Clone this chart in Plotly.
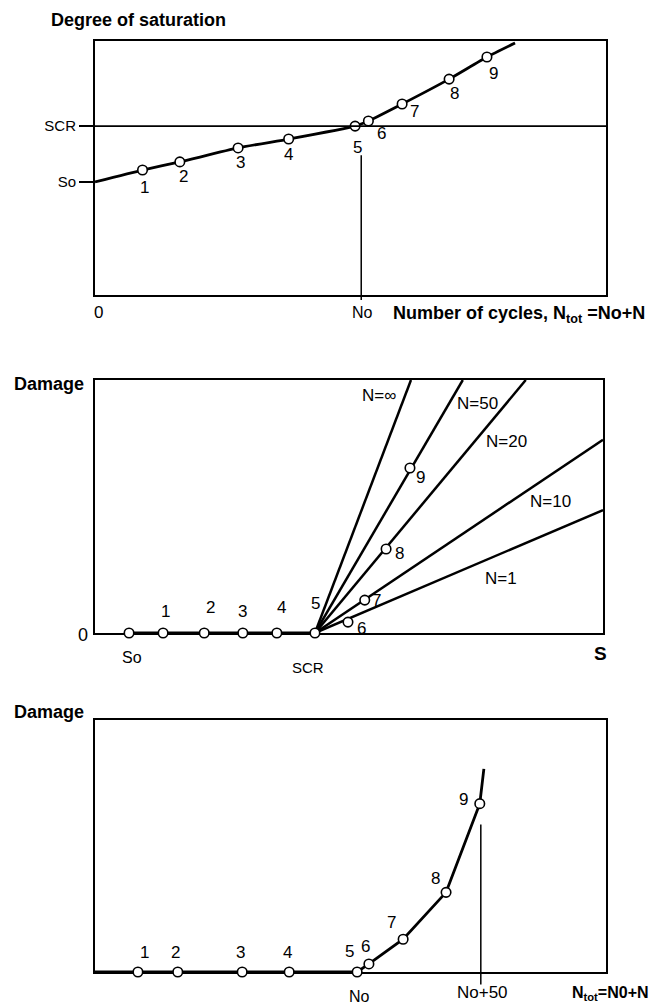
import plotly.graph_objects as go

# ---------------- data (schematic units, 0-100 on every axis) ----------------
# Panel 1: degree of saturation vs number of cycles
sat_cycles = [0, 9.3, 16.6, 28.0, 37.9, 50.9, 53.5, 60.1, 69.3, 76.7, 82.2]
sat_values = [44.5, 49.2, 52.4, 57.9, 61.4, 66.5, 68.5, 75.2, 85.0, 93.7, 99.2]
point_labels = ["1", "2", "3", "4", "5", "6", "7", "8", "9"]
S_O = 44.5
S_CR = 66.5
N_O = 52.1

# Panel 2: damage vs degree of saturation
S_O_2 = 6.7
S_CR_2 = 43.3
dmg_s_points = [13.4, 21.5, 29.1, 35.8, 43.3, 49.8, 53.1, 57.3, 62.0]
dmg_s_values = [0, 0, 0, 0, 0, 4.3, 13.0, 33.2, 65.2]
fan_labels = ["N=1", "N=10", "N=20", "N=50", "N=∞"]
fan_end_s = [100, 100, 84.8, 72.4, 62.2]
fan_end_damage = [48.6, 76.4, 100, 100, 100]

# Panel 3: damage vs total number of cycles
dmg_cycles = [0, 8.4, 16.2, 28.8, 38.0, 51.3, 53.6, 60.3, 68.7, 75.3, 76.1]
dmg_values = [0, 0, 0, 0, 0, 0, 3.2, 13.0, 31.6, 66.8, 80.6]
N_O_3 = 51.3
N_O_50 = 75.5

# ---------------- layout helpers ----------------
W, H = 667, 1006
FONT = "Liberation Sans, Arial, Helvetica, sans-serif"


def px(x):
    return x / W


def py(y):
    return 1 - y / H


boxes = {  # pixel boxes: (left, right, top, bottom)
    1: (95, 606, 41, 295),
    2: (95, 603, 380, 633),
    3: (95, 606, 720, 972),
}

fig = go.Figure()

line_kw = dict(color="black", width=2.8)
marker_kw = dict(symbol="circle", size=9.5, color="white", line=dict(color="black", width=1.6))

# Panel 1
fig.add_trace(go.Scatter(x=sat_cycles, y=sat_values, mode="lines",
                         line=dict(color="black", width=2.8, shape="spline", smoothing=0.5),
                         xaxis="x", yaxis="y", hoverinfo="skip"))
fig.add_trace(go.Scatter(x=sat_cycles[1:10], y=sat_values[1:10], mode="markers",
                         marker=marker_kw, xaxis="x", yaxis="y", cliponaxis=False))

# Panel 2
fig.add_trace(go.Scatter(x=[S_O_2] + dmg_s_points[:5], y=[0] * 6, mode="lines",
                         line=line_kw, xaxis="x2", yaxis="y2"))
for s_end, d_end in zip(fan_end_s, fan_end_damage):
    fig.add_trace(go.Scatter(x=[S_CR_2, s_end], y=[0, d_end], mode="lines",
                             line=dict(color="black", width=2.5), xaxis="x2", yaxis="y2"))
fig.add_trace(go.Scatter(x=[S_O_2] + dmg_s_points, y=[0] + dmg_s_values, mode="markers",
                         marker=marker_kw, xaxis="x2", yaxis="y2", cliponaxis=False))

# Panel 3
fig.add_trace(go.Scatter(x=dmg_cycles, y=dmg_values, mode="lines",
                         line=line_kw, xaxis="x3", yaxis="y3"))
fig.add_trace(go.Scatter(x=dmg_cycles[1:10], y=dmg_values[1:10], mode="markers",
                         marker=marker_kw, xaxis="x3", yaxis="y3", cliponaxis=False))


def axis(dom, **kw):
    d = dict(domain=dom, range=[0, 100], showgrid=False, zeroline=False,
             showline=True, mirror=True, linewidth=2, linecolor="black",
             ticks="", showticklabels=False, fixedrange=True, layer="below traces")
    d.update(kw)
    return d


lay = {}
for i in (1, 2, 3):
    l, r, t, b = boxes[i]
    sx = "" if i == 1 else str(i)
    lay["xaxis" + sx] = axis([px(l), px(r)], anchor="y" + sx)
    lay["yaxis" + sx] = axis([py(b), py(t)], anchor="x" + sx)

lay["yaxis"].update(tickvals=[S_O, S_CR], ticktext=["So", "SCR"], ticks="outside",
                    ticklen=14, tickwidth=1.5, tickcolor="black", showticklabels=True,
                    tickfont=dict(family=FONT, size=15, color="black"))

shapes = [
    dict(type="line", xref="x", yref="y", x0=0, x1=100, y0=S_CR, y1=S_CR,
         line=dict(color="black", width=1.6)),
    dict(type="line", xref="x", yref="y domain", x0=N_O, x1=N_O, y0=-0.02, y1=0.55,
         line=dict(color="black", width=1.5)),
    dict(type="line", xref="x3", yref="y3 domain", x0=N_O_50, x1=N_O_50, y0=-0.05, y1=0.585,
         line=dict(color="black", width=1.5)),
]

ann = []


def text(t, x, y, xref="paper", yref="paper", size=17, bold=False, xanchor="center",
         yanchor="middle", xshift=0, yshift=0):
    ann.append(dict(text=("<b>%s</b>" % t) if bold else t, x=x, y=y, xref=xref, yref=yref,
                    showarrow=False, xanchor=xanchor, yanchor=yanchor,
                    xshift=xshift, yshift=yshift,
                    font=dict(family=FONT, size=size, color="black")))


# point label offsets in pixels (right, down)
p1_off = [(2, 17), (4, 15), (2, 15), (0, 15), (2, 21), (13, 12), (12, 8), (5, 14), (7, 16)]
p2_off = [(2, -22), (6, -26), (0, -22), (5, -26), (1, -30), (14, 6), (12, 0), (13, 4), (11, 9)]
p3_off = [(7, -20), (-2, -20), (-2, -20), (-2, -20), (-8, -21), (-3, -17), (-12, -17), (-11, -14), (-16, -4)]

for k, lab in enumerate(point_labels):
    dx, dy = p1_off[k]
    text(lab, sat_cycles[k + 1], sat_values[k + 1], "x", "y", xshift=dx, yshift=-dy)
    dx, dy = p2_off[k]
    text(lab, dmg_s_points[k], dmg_s_values[k], "x2", "y2", xshift=dx, yshift=-dy)
    dx, dy = p3_off[k]
    text(lab, dmg_cycles[k + 1], dmg_values[k + 1], "x3", "y3", xshift=dx, yshift=-dy)

fan_label_pos = [(79.9, 21.7), (89.6, 51.8), (81.1, 75.5), (75.2, 90.9), (55.9, 93.7)]
for lab, (fx, fy) in zip(fan_labels, fan_label_pos):
    text(lab, fx, fy, "x2", "y2", size=17)

# Panel 1 texts
text("Degree of saturation", px(49), py(20), bold=True, size=18, xanchor="left")
text("0", 0, py(313), "x", "paper", xshift=3)
text("No", N_O, py(313), "x", "paper", xshift=1, size=16)
text("Number of cycles, N<sub>tot</sub> =No+N", px(391), py(314), bold=True,
     size=18, xanchor="left")

# Panel 2 texts
text("Damage", px(12), py(384), bold=True, size=18, xanchor="left")
text("0", px(83), py(635), size=18)
text("So", S_O_2, py(657), "x2", "paper", xshift=3, size=16)
text("SCR", S_CR_2, py(667), "x2", "paper", xshift=-7, size=15)
text("S", px(600), py(653), size=19, bold=True)

# Panel 3 texts
text("Damage", px(12), py(712), bold=True, size=18, xanchor="left")
text("No", N_O_3, py(996), "x3", "paper", xshift=2, size=16)
text("No+50", N_O_50, py(992), "x3", "paper", xshift=2, size=17)
text("N<sub>tot</sub>=N0+N", px(570), py(993), bold=True, size=16, xanchor="left")

fig.update_layout(width=W, height=H, margin=dict(l=0, r=0, t=0, b=0),
                  paper_bgcolor="white", plot_bgcolor="white", showlegend=False,
                  shapes=shapes, annotations=ann, **lay)

fig.write_html("out.html", config={"displayModeBar": False},
               post_script="document.body.style.margin='0';document.body.style.padding='0';")
